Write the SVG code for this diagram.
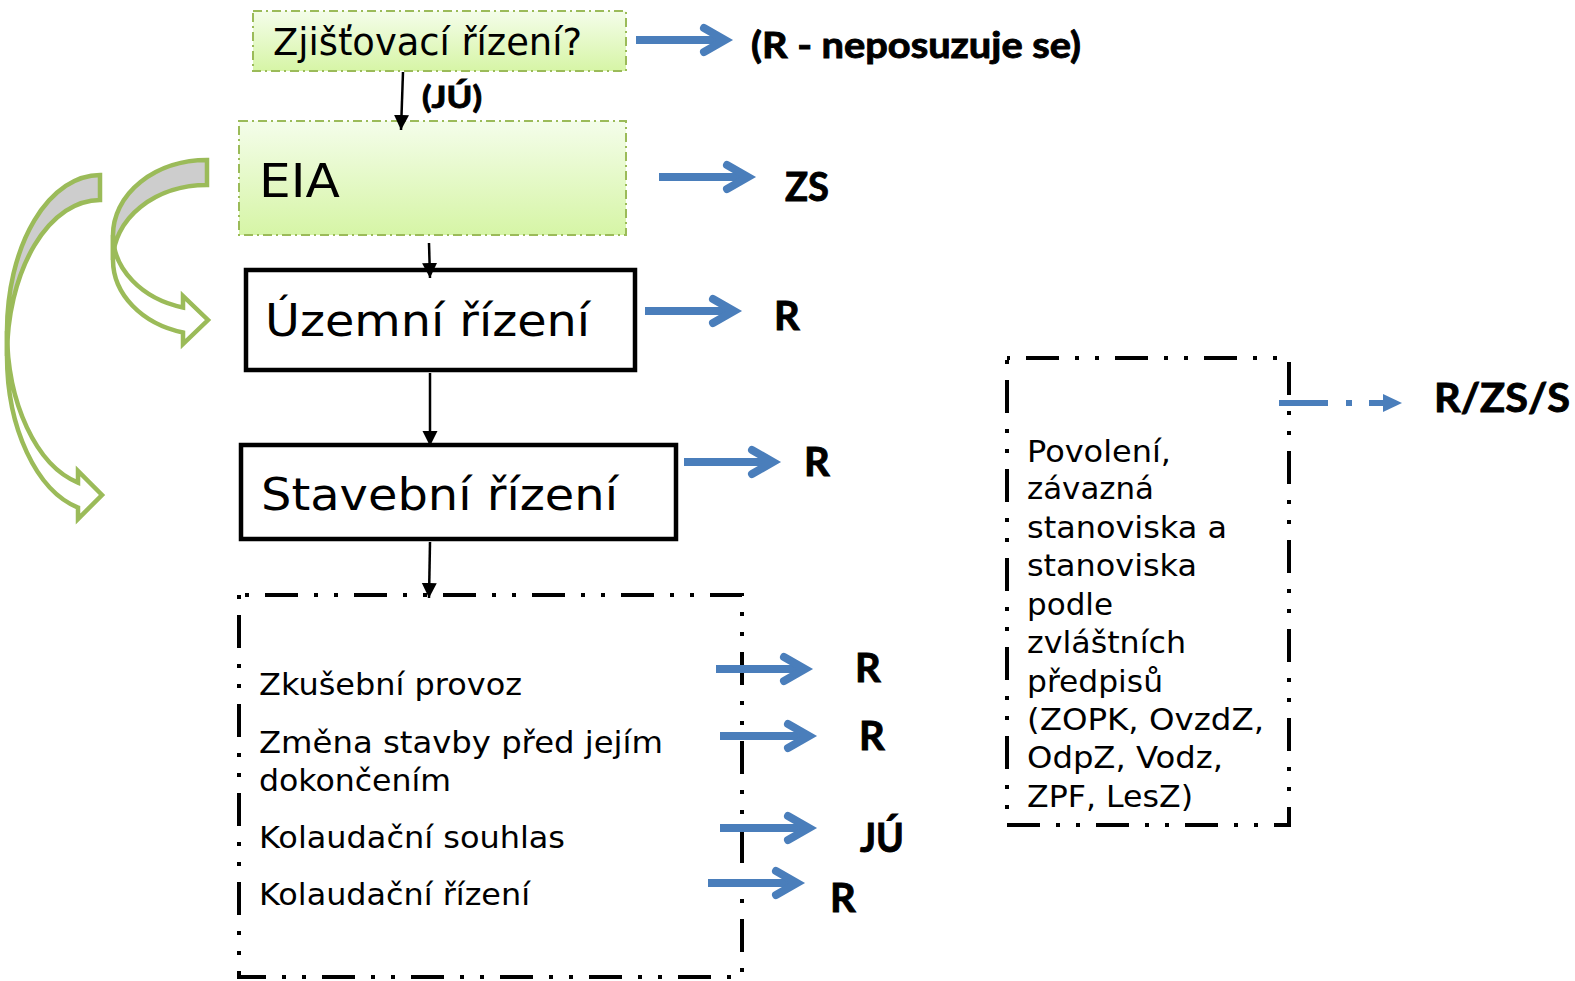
<svg xmlns="http://www.w3.org/2000/svg" xmlns:xlink="http://www.w3.org/1999/xlink" width="1575" height="981" viewBox="0 0 1575 981">
<defs>
<style>
.t{font-family:"DejaVu Sans","Verdana",sans-serif;fill:#000}
.b{font-family:"Lato","Liberation Sans",sans-serif;font-weight:700;fill:#000;stroke:#000;stroke-width:0.9}
.gbox{stroke:#9bbb59;stroke-width:2;stroke-dasharray:9 4 2 4;fill:url(#gg)}
.kbox{fill:#fff;stroke:#000;stroke-width:4.5}
.dbox{fill:none;stroke:#000;stroke-width:4;stroke-dasharray:33 16 4 16 4 16}
.conn{stroke:#000;stroke-width:2.5;fill:none;marker-end:url(#ah)}
.bl{stroke:#4a7ebb;stroke-width:8;fill:none}
.curv{stroke:#9bbb59;stroke-width:4.5;stroke-linejoin:miter}
</style>
<linearGradient id="gg" x1="0" y1="0" x2="0" y2="1">
<stop offset="0" stop-color="#f4fdea"/>
<stop offset="1" stop-color="#d6f5a6"/>
</linearGradient>
<marker id="ah" markerUnits="userSpaceOnUse" markerWidth="16" markerHeight="16" viewBox="0 0 16 16" refX="15" refY="8" orient="auto">
<path d="M0,0.5 L15,8 L0,15.5 Z" fill="#000"/>
</marker>
<g id="barrow">
<path class="bl" d="M0,0 H86"/>
<path class="bl" d="M68,-12 L89,0 L68,12" stroke-linecap="round" stroke-linejoin="miter"/>
</g>
</defs>
<rect width="1575" height="981" fill="#fff"/>

<g id="curved-arrows">
<g id="curve1">
<path class="curv" fill="#cdcdcd" d="M207,160 A94,75 0 0 0 113,235 L113,260 A94,75 0 0 1 207,185 Z"/>
<path class="curv" fill="#fff" d="M113,235 A94,75 0 0 0 183,307.5 L183,296 L208,320 L183,344 L183,332.5 A94,75 0 0 1 113,260 Z"/>
</g>
<g id="curve2">
<path class="curv" fill="#cdcdcd" d="M100,175 A93,156 0 0 0 7,331 L7,356 A93,156 0 0 1 100,200 Z"/>
<path class="curv" fill="#fff" d="M7,331 A93,156 0 0 0 78,482.6 L78,471 L102,495 L78,519 L78,507.6 A93,156 0 0 1 7,356 Z"/>
</g>
</g>

<g id="n-zjistovaci">
<rect class="gbox" x="253" y="11" width="373" height="60"/>
<text class="t" x="273" y="55" font-size="37" textLength="309" lengthAdjust="spacingAndGlyphs">Zjišťovací řízení?</text>
</g>
<g id="n-eia">
<rect class="gbox" x="239" y="121" width="387" height="114"/>
<text class="t" x="259" y="197" font-size="47" textLength="81" lengthAdjust="spacingAndGlyphs">EIA</text>
</g>
<g id="n-uzemni">
<rect class="kbox" x="246" y="270" width="389" height="100"/>
<text class="t" x="265" y="336" font-size="44" textLength="325" lengthAdjust="spacingAndGlyphs">Územní řízení</text>
</g>
<g id="n-stavebni">
<rect class="kbox" x="241" y="445" width="435" height="94"/>
<text class="t" x="261" y="510" font-size="44" textLength="357" lengthAdjust="spacingAndGlyphs">Stavební řízení</text>
</g>
<g id="n-dalsi">
<rect class="dbox" x="239" y="595" width="503" height="382" stroke-dashoffset="63"/>
<text class="t" x="259" y="695" font-size="30" textLength="263" lengthAdjust="spacingAndGlyphs">Zkušební provoz</text>
<text class="t" x="259" y="753" font-size="30" textLength="404" lengthAdjust="spacingAndGlyphs">Změna stavby před jejím</text>
<text class="t" x="259" y="791" font-size="30" textLength="192" lengthAdjust="spacingAndGlyphs">dokončením</text>
<text class="t" x="259" y="848" font-size="30" textLength="306" lengthAdjust="spacingAndGlyphs">Kolaudační souhlas</text>
<text class="t" x="259" y="905" font-size="30" textLength="271" lengthAdjust="spacingAndGlyphs">Kolaudační řízení</text>
</g>
<g id="n-povoleni">
<rect class="dbox" x="1007" y="358" width="282" height="467" stroke-dashoffset="70"/>
<text class="t" x="1027" y="462" font-size="30" textLength="144" lengthAdjust="spacingAndGlyphs">Povolení,</text>
<text class="t" x="1027" y="499" font-size="30" textLength="127" lengthAdjust="spacingAndGlyphs">závazná</text>
<text class="t" x="1027" y="538" font-size="30" textLength="200" lengthAdjust="spacingAndGlyphs">stanoviska a</text>
<text class="t" x="1027" y="576" font-size="30" textLength="170" lengthAdjust="spacingAndGlyphs">stanoviska</text>
<text class="t" x="1027" y="615" font-size="30" textLength="86" lengthAdjust="spacingAndGlyphs">podle</text>
<text class="t" x="1027" y="653" font-size="30" textLength="159" lengthAdjust="spacingAndGlyphs">zvláštních</text>
<text class="t" x="1027" y="692" font-size="30" textLength="136" lengthAdjust="spacingAndGlyphs">předpisů</text>
<text class="t" x="1027" y="730" font-size="30" textLength="237" lengthAdjust="spacingAndGlyphs">(ZOPK, OvzdZ,</text>
<text class="t" x="1027" y="768" font-size="30" textLength="196" lengthAdjust="spacingAndGlyphs">OdpZ, Vodz,</text>
<text class="t" x="1027" y="807" font-size="30" textLength="166" lengthAdjust="spacingAndGlyphs">ZPF, LesZ)</text>
</g>

<g id="labels">
<text class="b" x="422" y="108" font-size="31" textLength="60" lengthAdjust="spacingAndGlyphs">(JÚ)</text>
<text class="b" x="751" y="58" font-size="36" textLength="330" lengthAdjust="spacingAndGlyphs">(R - neposuzuje se)</text>
<text class="b" x="785" y="201" font-size="40" textLength="44" lengthAdjust="spacingAndGlyphs">ZS</text>
<text class="b" x="774" y="330" font-size="40">R</text>
<text class="b" x="804" y="476" font-size="40">R</text>
<text class="b" x="855" y="682" font-size="40">R</text>
<text class="b" x="859" y="750" font-size="40">R</text>
<text class="b" x="860" y="852" font-size="40" textLength="44" lengthAdjust="spacingAndGlyphs">JÚ</text>
<text class="b" x="830" y="912" font-size="40">R</text>
<text class="b" x="1434" y="412" font-size="41" textLength="136" lengthAdjust="spacingAndGlyphs">R/ZS/S</text>
</g>

<g id="connectors">
<path class="conn" d="M403,72 L401,130"/>
<path class="conn" d="M429,243 L430,278"/>
<path class="conn" d="M430,373 L430,446"/>
<path class="conn" d="M430,542 L429,598"/>
<use xlink:href="#barrow" transform="translate(636,40)"/>
<use xlink:href="#barrow" transform="translate(659,177)"/>
<use xlink:href="#barrow" transform="translate(645,311)"/>
<use xlink:href="#barrow" transform="translate(684,462)"/>
<use xlink:href="#barrow" transform="translate(716,669)"/>
<use xlink:href="#barrow" transform="translate(720,736)"/>
<use xlink:href="#barrow" transform="translate(720,828)"/>
<use xlink:href="#barrow" transform="translate(708,883)"/>
<path d="M1279,403 H1385" stroke="#4a7ebb" stroke-width="6" stroke-dasharray="49 18 6 17" fill="none"/>
<path d="M1383,394 L1402,403 L1383,412 Z" fill="#4a7ebb"/>
</g>
</svg>
